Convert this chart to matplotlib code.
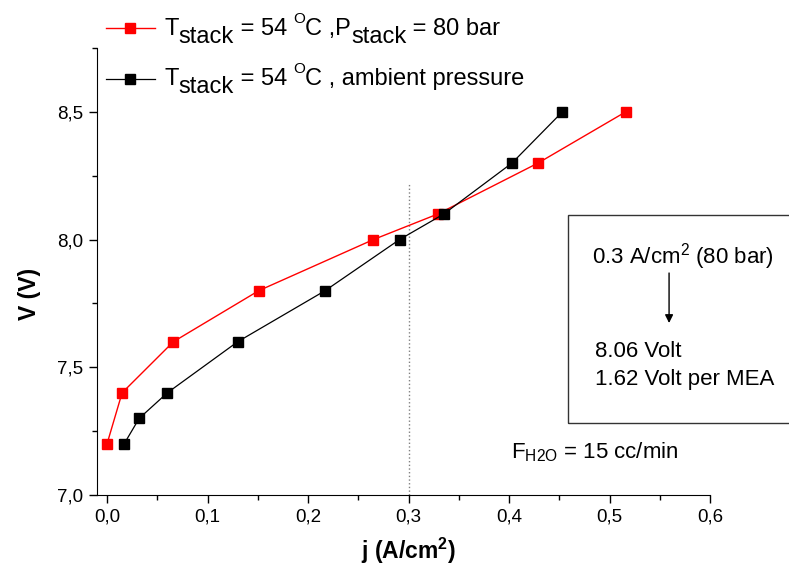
import matplotlib
matplotlib.use('Agg')
import matplotlib.pyplot as plt
from matplotlib.patches import Rectangle, FancyArrowPatch
from matplotlib.ticker import MultipleLocator, FuncFormatter

plt.rcParams['font.family'] = ['Liberation Sans', 'DejaVu Sans']
plt.rcParams['mathtext.fontset'] = 'custom'
plt.rcParams['mathtext.rm'] = 'Liberation Sans'
plt.rcParams['mathtext.bf'] = 'Liberation Sans:bold'

# 80 bar series
j_80bar = [0.0, 0.015, 0.066, 0.151, 0.265, 0.329, 0.429, 0.516]
v_80bar = [7.2, 7.4, 7.6, 7.8, 8.0, 8.1, 8.3, 8.5]

# ambient pressure series
j_amb = [0.017, 0.032, 0.060, 0.130, 0.217, 0.291, 0.335, 0.403, 0.453]
v_amb = [7.2, 7.3, 7.4, 7.6, 7.8, 8.0, 8.1, 8.3, 8.5]

j_mark = 0.3
v_mark_top = 8.22

# legend labels as (text, size, baseline shift in points)
label_80bar = [('T', 17, 0), ('stack', 17, -5.8), (' = 54 ', 17, 0), ('O', 11, 8.5),
               ('C ,P', 17, 0), ('stack', 17, -5.8), (' = 80 bar', 17, 0)]
label_amb = [('T', 17, 0), ('stack', 17, -5.8), (' = 54 ', 17, 0), ('O', 11, 8.5),
             ('C , ambient pressure', 17, 0)]

fig = plt.figure(figsize=(7.89, 5.67), dpi=100)
ax = fig.add_axes([0.1229, 0.127, 0.7771, 0.7883])

l1, = ax.plot(j_80bar, v_80bar, color='red', lw=1.0, marker='s', ms=7.3,
              markeredgecolor='red', clip_on=False, zorder=3)
l2, = ax.plot(j_amb, v_amb, color='black', lw=0.9, marker='s', ms=7.3,
              clip_on=False, zorder=4)

ax.plot([j_mark, j_mark], [7.0, v_mark_top], color='gray', ls=':', lw=1.0)

ax.set_xlim(-0.01, 0.6)
ax.set_ylim(7.0, 8.75)
ax.spines['top'].set_visible(False)
ax.spines['right'].set_visible(False)
ax.xaxis.set_major_locator(MultipleLocator(0.1))
ax.xaxis.set_minor_locator(MultipleLocator(0.05))
ax.yaxis.set_major_locator(MultipleLocator(0.5))
ax.yaxis.set_minor_locator(MultipleLocator(0.25))
comma = FuncFormatter(lambda v, p: ('%.1f' % v).replace('.', ','))
ax.xaxis.set_major_formatter(comma)
ax.yaxis.set_major_formatter(comma)
ax.tick_params(which='major', direction='out', length=6, width=1, labelsize=13.5, pad=4)
ax.tick_params(which='minor', direction='out', length=3.5, width=1)

ax.set_xlabel(r'j (A/cm$\mathbf{^2}$)', fontsize=16.5, fontweight='bold')
ax.xaxis.label.set_va('baseline')
ax.xaxis.set_label_coords(0.508, -0.144)
ax.set_ylabel('V (V)', fontsize=16.5, fontweight='bold')
ax.yaxis.label.set_va('center')
ax.yaxis.set_label_coords(-0.1095, 0.45)

leg = fig.legend([l1, l2], [' ', ' '], loc='upper left',
                 bbox_to_anchor=(0.1339, 0.969), frameon=False, fontsize=16.5,
                 handlelength=2.16, handletextpad=0.2, labelspacing=1.22,
                 borderpad=0, borderaxespad=0, markerscale=0.95)


def rich_text(x, y, pieces):
    # chain text pieces one after another, each shifted by its own baseline offset
    s, fs, off = pieces[0]
    prev = ax.annotate(s, xy=(x, y), xycoords='figure fraction', fontsize=fs,
                       ha='left', va='baseline', annotation_clip=False)
    prev_off, prev_fs = off, fs
    for s, fs, off in pieces[1:]:
        dy = off - prev_off + 0.21 * (prev_fs - fs)
        prev = ax.annotate(s, xy=(1, 0), xycoords=prev, xytext=(0, dy),
                           textcoords='offset points', fontsize=fs,
                           ha='left', va='bottom', annotation_clip=False)
        prev_off, prev_fs = off, fs


rich_text(0.2079, 0.9383, label_80bar)
rich_text(0.2079, 0.8501, label_amb)

box = Rectangle((0.7199, 0.2545), 0.35, 0.3663, transform=fig.transFigure,
                fill=False, edgecolor='#333333', lw=1.0, clip_on=False)
fig.patches.append(box)
fig.text(0.750, 0.536, r'0.3 A/cm$^2$ (80 bar)', fontsize=16, va='baseline')
fig.add_artist(FancyArrowPatch(
    (0.848, 0.5185), (0.848, 0.4303), transform=fig.transFigure,
    arrowstyle='-|>', mutation_scale=12, color='black', lw=1.0,
    shrinkA=0, shrinkB=0))
fig.text(0.754, 0.3704, '8.06 Volt', fontsize=16, va='baseline')
fig.text(0.754, 0.321, '1.62 Volt per MEA', fontsize=16, va='baseline')
fig.text(0.648, 0.1922, r'F$_{\mathregular{H2O}}$ = 15 cc/min', fontsize=16, va='baseline')

fig.savefig('out.png', dpi=100)
